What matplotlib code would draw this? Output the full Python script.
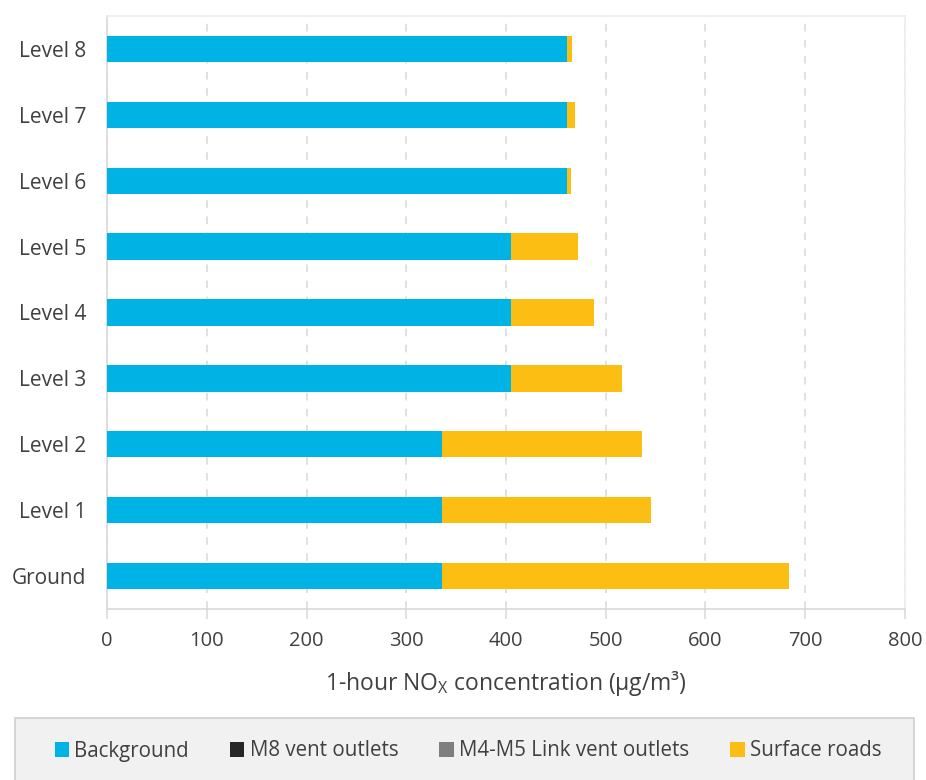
import numpy as np
import matplotlib
matplotlib.use('Agg')
import matplotlib.pyplot as plt
from matplotlib.patches import Rectangle

plt.rcParams['font.family'] = ['Open Sans', 'DejaVu Sans']

# data (ug/m3), bottom to top
levels = ['Ground', 'Level 1', 'Level 2', 'Level 3', 'Level 4',
          'Level 5', 'Level 6', 'Level 7', 'Level 8']
background = [336, 336, 336, 405, 405, 405, 461, 461, 461]
m8_vents = [0, 0, 0, 0, 0, 0, 0, 0, 0]
m4m5_vents = [0, 0, 0, 0, 0, 0, 0, 0, 0]
surface_roads = [348, 209, 200, 111, 83, 67, 4, 8, 5]

series_names = ['Background', 'M8 vent outlets', 'M4-M5 Link vent outlets', 'Surface roads']
colours = ['#00B3E5', '#262626', '#7F7F7F', '#FDBE14']
text_col = '#404040'

fig = plt.figure(figsize=(9.26, 7.80), dpi=100)
ax = fig.add_axes([107/926, 1-609/780, (905-107)/926, (609-16)/780])

y = np.arange(len(levels))
left = np.zeros(len(levels))
for vals, name, col in zip([background, m8_vents, m4m5_vents, surface_roads], series_names, colours):
    ax.barh(y, vals, left=left, height=0.4, color=col, label=name, linewidth=0, zorder=3)
    left = left + np.array(vals)

ax.set_xlim(0, 800)
ax.set_ylim(-0.5, 8.5)
ax.set_xticks(np.arange(0, 801, 100))
ax.set_yticks(y)
ax.set_yticklabels(levels)

ax.grid(axis='x', color='#D9D9D9', linewidth=1.1, linestyle=(0, (5, 5.5)), zorder=0)
ax.tick_params(axis='x', length=7, width=1.1, color='#D9D9D9', labelsize=14.5,
               labelcolor=text_col, pad=9)
ax.tick_params(axis='y', length=0, labelsize=15, labelcolor=text_col, pad=15)

for s in ['left', 'bottom']:
    ax.spines[s].set_color('#D9D9D9')
    ax.spines[s].set_linewidth(1.2)
for s in ['top', 'right']:
    ax.spines[s].set_color('#EDEDED')
    ax.spines[s].set_linewidth(1.2)

ax.set_xlabel(r'1-hour NO$_\mathregular{X}$ concentration (µg/m³)', fontsize=16.5,
              color=text_col, labelpad=13)

# legend box along the bottom
fig.patches.append(Rectangle((15/926, -0.02), (914-15)/926, 1-718/780+0.02,
                             transform=fig.transFigure, facecolor='#F1F1F1',
                             edgecolor='#CFCFCF', linewidth=1.2, zorder=0))
handles, labels = ax.get_legend_handles_labels()
fig.legend(handles, labels, loc='center', bbox_to_anchor=(468/926, 1-751/780),
           ncol=4, frameon=False, fontsize=14.8, labelcolor=text_col,
           handlelength=0.7, handleheight=0.7, handletextpad=0.25, columnspacing=2.0)

fig.savefig('out.png', dpi=100)
